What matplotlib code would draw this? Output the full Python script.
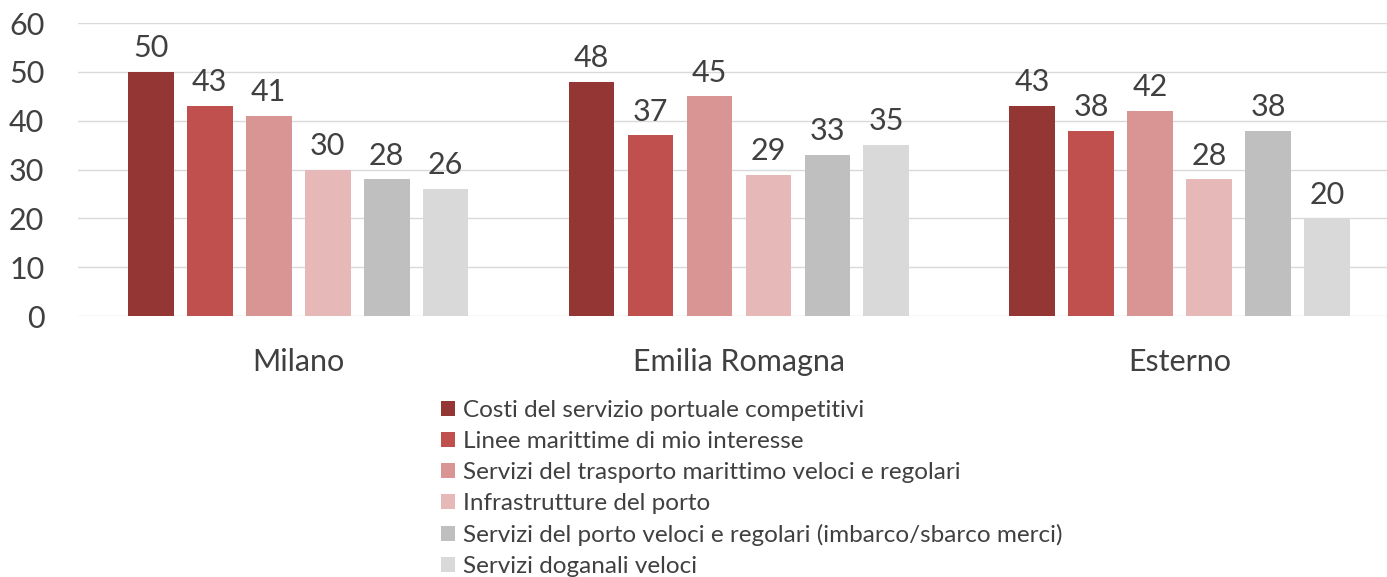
import numpy as np
import matplotlib.pyplot as plt

plt.rcParams['font.family'] = ['Lato', 'DejaVu Sans']

regions = ["Milano", "Emilia Romagna", "Esterno"]
series = [
    "Costi del servizio portuale competitivi",
    "Linee marittime di mio interesse",
    "Servizi del trasporto marittimo veloci e regolari",
    "Infrastrutture del porto",
    "Servizi del porto veloci e regolari (imbarco/sbarco merci)",
    "Servizi doganali veloci",
]
values = [
    [50, 48, 43],
    [43, 37, 38],
    [41, 45, 42],
    [30, 29, 28],
    [28, 33, 38],
    [26, 35, 20],
]
colors = ["#943634", "#C0504D", "#D99594", "#E6B9B8", "#BFBFBF", "#D9D9D9"]
yticks = [0, 10, 20, 30, 40, 50, 60]

fig = plt.figure(figsize=(13.87, 5.77), dpi=100)
ax = fig.add_axes([0.056, 0.452, 0.944, 0.508])

x = np.arange(len(regions))
step = 0.1338
width = 0.104
n = len(series)
for i, (name, vals, col) in enumerate(zip(series, values, colors)):
    pos = x + (i - (n - 1) / 2) * step
    bars = ax.bar(pos, vals, width=width, color=col, label=name, zorder=3)
    ax.bar_label(bars, padding=7, fontsize=22, color="#404040")

ax.set_xlim(-0.5, 2.47)
ax.set_ylim(0, 60)
ax.set_yticks(yticks)
ax.set_xticks(x)
ax.set_xticklabels(regions, fontsize=22, color="#404040")
ax.tick_params(axis="y", labelsize=22, labelcolor="#404040", length=0, pad=24)
ax.tick_params(axis="x", length=0, pad=23)
ax.grid(axis="y", color="#D9D9D9", lw=1, zorder=0)
for s in ax.spines.values():
    s.set_visible(False)

fig.legend(loc="upper left", bbox_to_anchor=(0.309, 0.328), frameon=False,
           fontsize=17.5, labelcolor="#404040", handlelength=0.6, handleheight=0.6,
           handletextpad=0.3, labelspacing=0.41, borderpad=0)

fig.savefig("out.png", dpi=100)
